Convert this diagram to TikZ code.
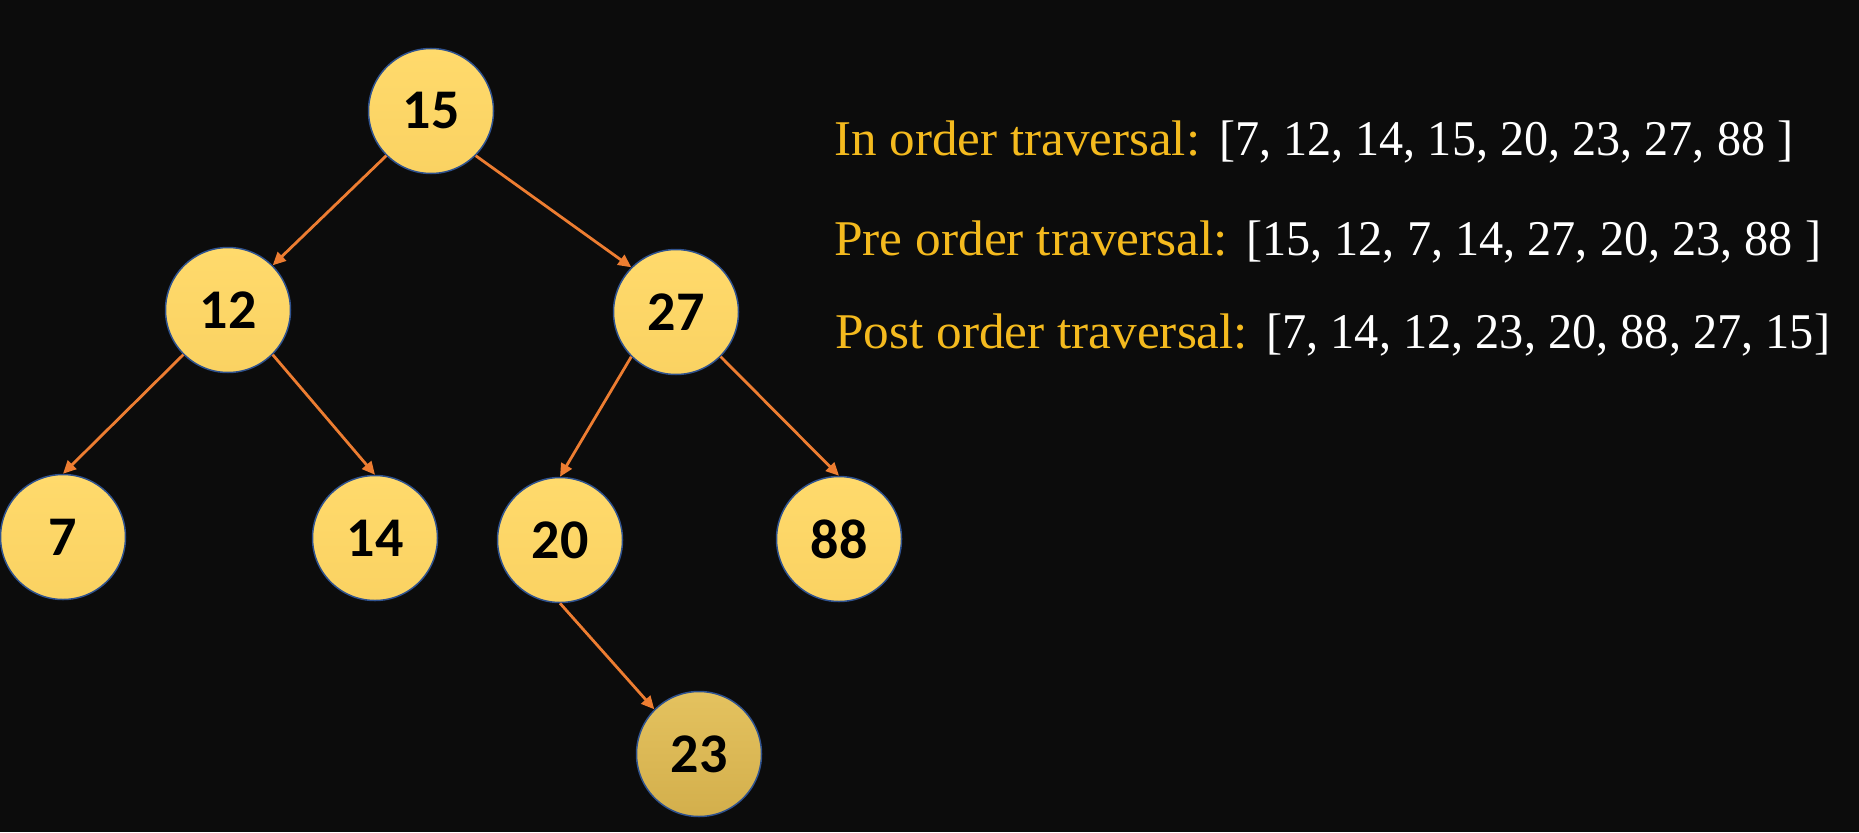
\documentclass[tikz,border=0pt]{standalone}
\usepackage{fontspec}
\usepackage{graphicx}
\setmainfont{Liberation Serif}
\newfontfamily\numfont{Carlito}
\usetikzlibrary{arrows.meta}
\definecolor{bgc}{HTML}{0C0C0C}
\definecolor{nodetop}{HTML}{FFDA6C}
\definecolor{nodebot}{HTML}{FAD262}
\definecolor{darktop}{HTML}{E4C25F}
\definecolor{darkbot}{HTML}{D3AF4C}
\definecolor{rimc}{HTML}{2F528F}
\definecolor{edgec}{HTML}{ED7D31}
\definecolor{goldtxt}{HTML}{F4BA1E}
\tikzset{
  treenode/.style={circle, draw=rimc, line width=1.5pt, minimum size=125pt, inner sep=0pt,
    top color=nodetop, bottom color=nodebot, font=\numfont\bfseries\fontsize{56}{60}\selectfont, text=black},
  darknode/.style={treenode, top color=darktop, bottom color=darkbot},
  link/.style={draw=edgec, line width=2.8pt, -{Triangle[length=13pt,width=12pt]}},
  travtext/.style={anchor=base west, inner sep=0pt, font=\fontsize{50}{56}\selectfont},
  goldpart/.style={travtext, text=goldtxt},
  whitepart/.style={travtext, text=white}
}
\begin{document}
\begin{tikzpicture}[x=1pt,y=-1pt]
\fill[bgc] (0,0) rectangle (1859,832);
\useasboundingbox (0,0) rectangle (1859,832);
\node[treenode] (n15) at (431,111) {15};
\node[treenode] (n12) at (228,310) {12};
\node[treenode] (n27) at (676,312) {27};
\node[treenode] (n7)  at (63,537) {7};
\node[treenode] (n14) at (375,538) {14};
\node[treenode] (n20) at (560,540) {20};
\node[treenode] (n88) at (839,539) {88};
\node[darknode] (n23) at (699,754) {23};
\draw[link] (n15.south west) -- (n12.north east);
\draw[link] (n15.south east) -- (n27.north west);
\draw[link] (n12.south west) -- (n7.north);
\draw[link] (n12.south east) -- (n14.north);
\draw[link] (n27.south west) -- (n20.north);
\draw[link] (n27.south east) -- (n88.north);
\draw[link] (n20.south) -- (n23.north west);
\node[goldpart] (g1) at (834,156) {\resizebox{366pt}{\height}{In order traversal:}};
\node[whitepart] (w1) at (1219,156) {\resizebox{574pt}{\height}{[7, 12, 14, 15, 20, 23, 27, 88 ]}};
\node[goldpart] (g2) at (834,255) {\resizebox{394pt}{\height}{Pre order traversal:}};
\node[whitepart] (w2) at (1246,255) {\resizebox{575pt}{\height}{[15, 12, 7, 14, 27, 20, 23, 88 ]}};
\node[goldpart] (g3) at (835,348) {\resizebox{413pt}{\height}{Post order traversal:}};
\node[whitepart] (w3) at (1266,348) {\resizebox{564pt}{\height}{[7, 14, 12, 23, 20, 88, 27, 15]}};
\end{tikzpicture}
\end{document}
